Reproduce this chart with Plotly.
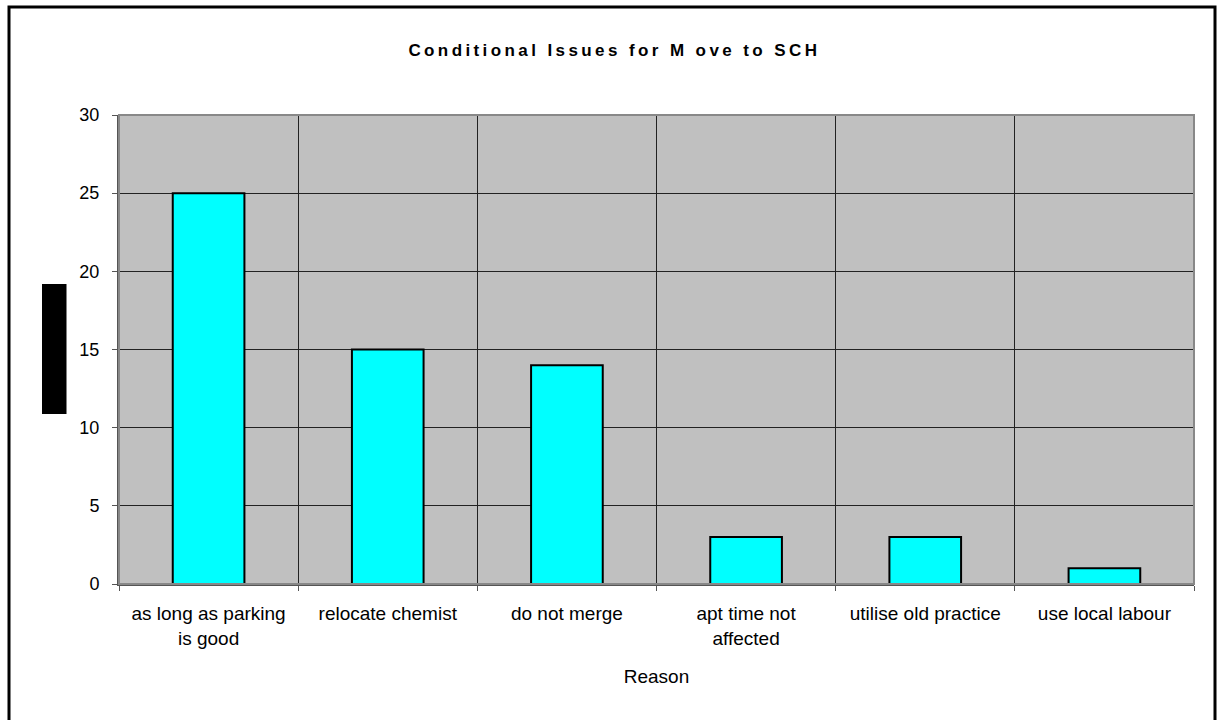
import plotly.graph_objects as go

categories = [
    "as long as parking<br>is good",
    "relocate chemist",
    "do not merge",
    "apt time not<br>affected",
    "utilise old practice",
    "use local labour",
]
counts = [25, 15, 14, 3, 3, 1]
y_ticks = [0, 5, 10, 15, 20, 25, 30]

title_text = "Conditional Issues for M ove to SCH"
# widen the title's letter spacing with thin spaces
spaced_title = "\u2009".join(title_text)

W, H = 1218, 720
L, R, T, B = 119, 24, 115, 136
pw, ph = W - L - R, H - T - B


def px(x):
    return (x - L) / pw


def py(y):
    return (H - B - y) / ph


fig = go.Figure(
    go.Bar(
        x=categories,
        y=counts,
        marker=dict(color="#00FFFF", line=dict(color="black", width=2)),
        width=0.4,
    )
)

font = "Liberation Sans, Arial, sans-serif"

fig.update_layout(
    width=W,
    height=H,
    margin=dict(l=L, r=R, t=T, b=B),
    paper_bgcolor="white",
    plot_bgcolor="#C0C0C0",
    showlegend=False,
    font=dict(family=font, size=19, color="black"),
    title=dict(
        text=f"<b>{spaced_title}</b>",
        x=0.503,
        xref="container",
        xanchor="center",
        y=1 - 50 / H,
        yref="container",
        yanchor="middle",
        font=dict(family=font, size=17, color="black"),
    ),
    xaxis=dict(
        type="category",
        tickson="boundaries",
        showgrid=True,
        gridcolor="#222222",
        gridwidth=1,
        ticks="outside",
        ticklen=5,
        tickcolor="#555555",
        showline=True,
        linecolor="#555555",
        linewidth=2,
        ticklabelstandoff=11,
        tickfont=dict(size=19),
        title=dict(text="Reason", font=dict(size=19), standoff=22),
        range=[-0.5, 5.5],
        mirror=False,
    ),
    yaxis=dict(
        range=[0, 30],
        tickvals=y_ticks,
        showgrid=True,
        gridcolor="#222222",
        gridwidth=1,
        zeroline=False,
        ticks="outside",
        ticklen=5,
        tickcolor="#555555",
        showline=True,
        linecolor="#555555",
        linewidth=2,
        ticklabelstandoff=9,
        tickfont=dict(size=18),
    ),
    shapes=[
        # plot frame
        dict(type="rect", xref="paper", yref="paper", x0=0, x1=1, y0=0, y1=1,
             line=dict(color="#888888", width=2), layer="above"),
        # chart border
        dict(type="rect", xref="paper", yref="paper",
             x0=px(9), x1=px(1215), y0=py(735), y1=py(7),
             line=dict(color="black", width=3)),
        # y-axis label block
        dict(type="rect", xref="paper", yref="paper",
             x0=px(42), x1=px(66.5), y0=py(414), y1=py(284),
             fillcolor="black", line=dict(width=0)),
    ],
)

fig.write_html("out.html")
